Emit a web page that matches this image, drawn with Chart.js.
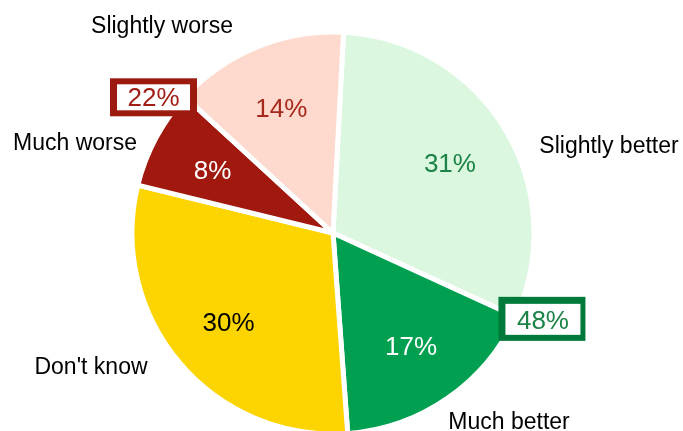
<!DOCTYPE html>
<html>
<head>
<meta charset="utf-8">
<script src="https://cdn.jsdelivr.net/npm/chart.js@4"></script>
<style>
  html, body { margin: 0; padding: 0; background: #ffffff; }
  #wrap { width: 683px; height: 431px; position: relative; }
</style>
</head>
<body>
<div id="wrap"><canvas id="c" width="683" height="431"></canvas></div>
<script>
// ---- data ----
const categories = ['Slightly better', 'Much better', "Don't know", 'Much worse', 'Slightly worse'];
const values = [31, 17, 30, 8, 14];
const betterGroup = [0, 1];   // summed into the green box
const worseGroup = [3, 4];    // summed into the red box

// ---- styles ----
const sliceColors = ['#dcf7e0', '#00a050', '#fcd400', '#a0180e', '#fddacd'];
const pctColors = ['#1a8345', '#ffffff', '#000000', '#ffffff', '#a8281c'];
// label offsets from pie centre (pixels, text centre x / baseline y)
const labelOffsets = [[276, -80], [176, 196], [-242, 141], [-258, -83], [-171, -200]];

const FONT = '"Liberation Sans", Arial, sans-serif';

const labelPlugin = {
  id: 'labelPlugin',
  afterDatasetsDraw(chart) {
    const ctx = chart.ctx;
    const meta = chart.getDatasetMeta(0);
    const total = values.reduce((a, b) => a + b, 0);
    ctx.save();
    meta.data.forEach((arc, i) => {
      const { x, y, startAngle, endAngle, outerRadius } = arc.getProps(['x', 'y', 'startAngle', 'endAngle', 'outerRadius'], true);
      const mid = (startAngle + endAngle) / 2;
      const r = outerRadius * 0.68;
      ctx.font = '26px ' + FONT;
      ctx.fillStyle = pctColors[i];
      ctx.textAlign = 'center';
      ctx.textBaseline = 'middle';
      ctx.fillText(Math.round(values[i] / total * 100) + '%', x + Math.cos(mid) * r, y + Math.sin(mid) * r + 3);
      // category label
      ctx.font = '23px ' + FONT;
      ctx.fillStyle = '#000000';
      ctx.textBaseline = 'alphabetic';
      ctx.fillText(categories[i], x + labelOffsets[i][0], y + labelOffsets[i][1]);
    });

    function box(group, angle, dx, dy, w, h, bw, col, txtCol) {
      const arc0 = meta.data[0];
      const { x, y, outerRadius } = arc0.getProps(['x', 'y', 'outerRadius'], true);
      const R = outerRadius - 2;
      const jx = x + Math.cos(angle) * R;
      const jy = y + Math.sin(angle) * R;
      const cx = jx + dx, cy = jy + dy;
      ctx.fillStyle = col;
      ctx.fillRect(cx - w / 2, cy - h / 2, w, h);
      ctx.fillStyle = '#ffffff';
      ctx.fillRect(cx - w / 2 + bw[0], cy - h / 2 + bw[1], w - bw[0] - bw[2], h - bw[1] - bw[3]);
      const sum = group.reduce((a, k) => a + values[k], 0);
      ctx.font = '26px ' + FONT;
      ctx.fillStyle = txtCol;
      ctx.textAlign = 'center';
      ctx.textBaseline = 'middle';
      ctx.fillText(sum + '%', cx + (bw[0] - bw[2]) / 2, cy + (bw[1] - bw[3]) / 2 + 2);
    }
    // red box at junction of Much worse / Slightly worse
    const aWorse = meta.data[3].getProps(['endAngle'], true).endAngle;
    box(worseGroup, aWorse, -33, -1, 87, 38, [7, 6, 7, 6], '#9c1a10', '#a01e14');
    // green box at junction of Slightly better / Much better
    const aBetter = meta.data[0].getProps(['endAngle'], true).endAngle;
    box(betterGroup, aBetter, 28, 3, 87, 44, [7, 7, 5, 6], '#007a3a', '#1a8345');
    ctx.restore();
  }
};

new Chart(document.getElementById('c'), {
  type: 'pie',
  data: {
    labels: categories,
    datasets: [{
      data: values,
      backgroundColor: sliceColors,
      borderColor: '#ffffff',
      borderWidth: 5,
      hoverOffset: 0
    }]
  },
  options: {
    responsive: false,
    animation: false,
    rotation: 3,
    radius: 201,
    layout: { padding: { top: 35, bottom: 0, left: 0, right: 17 } },
    plugins: {
      legend: { display: false },
      tooltip: { enabled: false }
    }
  },
  plugins: [labelPlugin]
});
</script>
</body>
</html>
